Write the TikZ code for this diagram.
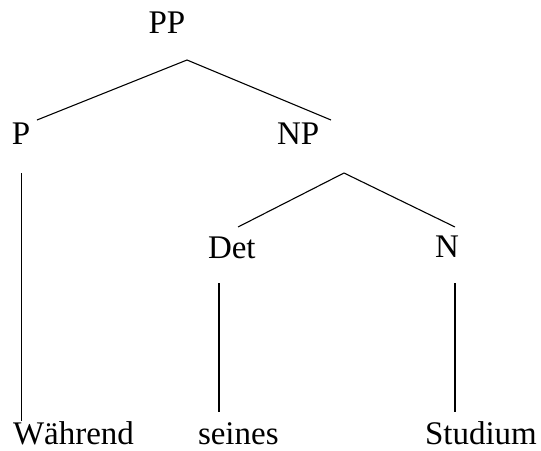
\documentclass[tikz,border=0pt]{standalone}
\usepackage{fontspec}
\setmainfont{Liberation Serif}
\begin{document}
\begin{tikzpicture}[x=1pt,y=-1pt,
  lbl/.style={inner sep=0pt,outer sep=0pt,anchor=base west,font=\fontsize{33}{40}\selectfont},
  edge/.style={line width=1.1pt,black}]
\useasboundingbox (0,0) rectangle (541,450);
% labels
\node[lbl,anchor=base] (PP) at (167,33) {PP};
\node[lbl] (P) at (12,144) {P};
\node[lbl] (NP) at (277,144) {NP};
\node[lbl] (Det) at (208,258) {Det};
\node[lbl] (N) at (435,257) {N};
\node[lbl] (W) at (13,444) {Während};
\node[lbl] (S) at (198,444) {seines};
\node[lbl] (St) at (425,444) {Studium};
% line ends
\coordinate (a1) at (187,60);
\coordinate (a1l) at (37,120);
\coordinate (a1r) at (331,120);
\coordinate (a2) at (344,173);
\coordinate (a2l) at (238,227);
\coordinate (a2r) at (455,227);
\coordinate (pt) at (21.5,173);
\coordinate (pb) at (21.5,421);
\coordinate (dt) at (219,283);
\coordinate (db) at (219,412);
\coordinate (nt) at (455,283);
\coordinate (nb) at (455,412);
\draw[edge] (a1l) -- (a1) -- (a1r);
\draw[edge] (a2l) -- (a2) -- (a2r);
\draw[edge] (pt) -- (pb);
\draw[edge] (dt) -- (db);
\draw[edge] (nt) -- (nb);
\end{tikzpicture}
\end{document}
